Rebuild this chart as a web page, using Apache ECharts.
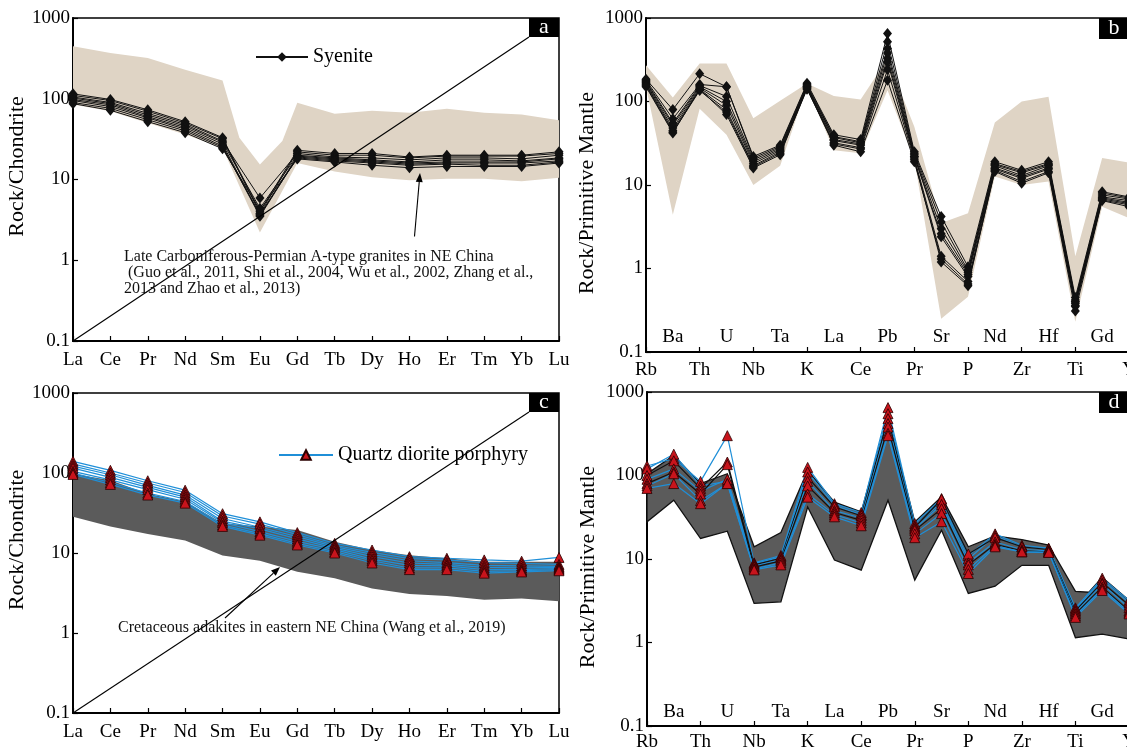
<!DOCTYPE html>
<html>
<head>
<meta charset="utf-8">
<script src="https://cdn.jsdelivr.net/npm/echarts@6/dist/echarts.min.js"></script>
<style>html,body{margin:0;padding:0;background:#fff}#main{width:1127px;height:749px}</style>
</head>
<body>
<div id="main"></div>
<script>
// chondrite normalised REE
var reeCats = ['La','Ce','Pr','Nd','Sm','Eu','Gd','Tb','Dy','Ho','Er','Tm','Yb','Lu'];
// primitive mantle normalised trace elements
var traceCats = ['Rb','Ba','Th','U','Nb','Ta','K','La','Ce','Pb','Pr','Sr','P','Nd','Zr','Hf','Ti','Gd','Y'];
var yTicks = [0.1, 1, 10, 100, 1000];

// envelopes, [category position, value]
var envAUpper = [[0,446],[1,369],[2,320],[3,229],[4,168],[4.45,33],[5,15.3],[5.6,30],[6,89],[7,65],[8,71],[9,67],[10,75],[11,67],[12,64],[13,54]];
var envALower = [[0,85],[1,70],[2,50],[3,36],[4,24.5],[5,2.2],[6,16],[7,12.6],[8,10.7],[9,9.8],[10,10.2],[11,10.2],[12,9.5],[13,10.5]];
var envBUpper = [[0,272],[1,112],[2,285],[3,285],[4,63],[5,102],[6,164],[7,116],[8,106],[9,325],[10,50],[11,3.5],[12,4.6],[13,56],[14,100],[15,114],[16,1.4],[17,21],[18,18.5]];
var envBLower = [[0,150],[1,4.4],[2,82],[3,40],[4,10],[5,17],[6,150],[7,26],[8,24],[9,136],[10,20],[11,0.25],[12,0.46],[13,12.6],[14,10],[15,11],[16,0.23],[17,5.5],[18,4.0]];
var envCUpper = [[0,98],[1,81],[2,55],[3,44],[4,23.6],[5,21.4],[6,19.4],[7,13.8],[8,10.9],[9,9.4],[10,8.6],[11,7.8],[12,7.8],[13,7.8]];
var envCLower = [[0,28.4],[1,21.4],[2,17.3],[3,14.3],[4,9.3],[5,8.0],[6,5.85],[7,4.83],[8,3.6],[9,3.08],[10,2.9],[11,2.6],[12,2.7],[13,2.5]];
var envDUpper = [[0,105],[1,174],[2,80],[3,105],[4,14],[5,20.7],[6,115],[7,48],[8,36.6],[9,526],[10,27.8],[11,55.5],[12,14],[13,18.9],[14,17.1],[15,14.7],[16,4.1],[16.5,4.0],[17,6],[18,3.2]];
var envDLower = [[0,27.9],[1,50.6],[2,17.6],[3,21.5],[4,2.94],[5,3.07],[6,42],[7,9.7],[8,7.35],[9,50.6],[10,5.58],[11,22.1],[12,3.87],[13,4.73],[14,8.4],[15,8.4],[16,1.14],[17,1.26],[18,1.1]];

// syenite REE
var syeA1 = [115, 98, 73, 52, 33, 4.0, 23, 21, 21, 19, 20, 20, 20, 22];
var syeA2 = [110, 95, 70, 50, 32, 3.8, 22, 20, 20, 18.5, 19.5, 19.5, 19.5, 21];
var syeA3 = [105, 90, 66, 48, 30, 5.9, 21, 19, 18.5, 17.5, 18.5, 18.5, 18, 20];
var syeA4 = [102, 87, 63, 46, 29, 4.4, 20, 18.5, 17.5, 16.5, 17.5, 17.5, 17, 18.5];
var syeA5 = [98, 84, 60, 44, 27.5, 3.6, 19.5, 18, 17, 16, 16.5, 16.5, 16.5, 18];
var syeA6 = [95, 80, 58, 42, 26, 3.5, 19, 17.5, 16.5, 15.5, 16, 16, 16, 17];
var syeA7 = [90, 76, 55, 40, 25, 3.7, 18.5, 17, 16, 15, 15.5, 15, 15, 16.5];
var syeA8 = [87, 72, 52, 38, 24, 4.2, 18, 16.5, 15, 14, 14.5, 14.5, 14.5, 16];

// syenite trace
var syeB1 = [185, 80, 215, 150, 22, 30, 165, 40, 35, 650, 25, 4.2, 1.05, 19, 15, 19, 0.45, 8.3, 7.2];
var syeB2 = [180, 62, 160, 150, 21, 29, 160, 38, 33, 520, 24, 3.6, 0.95, 18, 14.5, 18, 0.42, 8.0, 7.0];
var syeB3 = [175, 55, 155, 115, 20, 28, 155, 37, 32, 430, 23, 3.0, 0.9, 17.5, 14, 17.5, 0.4, 7.6, 6.8];
var syeB4 = [170, 52, 150, 100, 19, 27, 150, 35, 31, 380, 22, 2.6, 0.85, 17, 13, 17, 0.4, 7.2, 6.5];
var syeB5 = [165, 48, 145, 90, 18, 26, 150, 34, 30, 330, 22, 2.4, 0.8, 16, 12.5, 16, 0.38, 7.0, 6.2];
var syeB6 = [160, 45, 140, 80, 17, 25, 145, 32, 28, 300, 21, 1.4, 0.7, 15.5, 12, 15.5, 0.36, 6.8, 6.0];
var syeB7 = [155, 43, 135, 75, 16.5, 24, 140, 31, 27, 240, 20, 1.2, 0.62, 15, 11, 14.5, 0.35, 6.6, 5.8];
var syeB8 = [150, 42, 140, 70, 16, 23, 145, 30, 25, 180, 19, 1.3, 0.65, 14.5, 10.5, 14, 0.31, 6.5, 5.5];

// quartz diorite porphyry REE
var qdpC1 = [140, 108, 80, 61, 31, 24.5, 18, 13.2, 10.9, 9.0, 8.6, 8.2, 7.9, 8.8];
var qdpC2 = [130, 100, 75, 57, 29, 23, 17, 12.5, 10.2, 8.5, 8.2, 7.6, 7.4, 7.2];
var qdpC3 = [122, 95, 70, 53, 27, 21, 16, 12, 9.6, 8.0, 7.6, 7.0, 6.9, 6.8];
var qdpC4 = [115, 88, 66, 50, 25, 20, 15, 11.5, 9.0, 7.5, 7.2, 6.6, 6.5, 6.6];
var qdpC5 = [105, 82, 62, 47, 24, 18.5, 14, 11, 8.4, 7.0, 6.9, 6.2, 6.2, 6.4];
var qdpC6 = [100, 76, 56, 44, 22.5, 17.5, 13.2, 10.4, 8.0, 6.5, 6.5, 5.9, 6.0, 6.2];
var qdpC7 = [96, 72, 53, 42, 21.5, 16.7, 12.6, 10, 7.5, 6.2, 6.2, 5.6, 5.8, 6.0];

// quartz diorite porphyry trace
var qdpD1 = [130, 160, 85, 300, 9.0, 11, 125, 46, 36, 650, 26.6, 53, 11, 20, 14.6, 13.5, 2.6, 5.9, 3.2];
var qdpD2 = [120, 180, 75, 85, 8.8, 10.6, 110, 44, 34, 550, 25, 48, 10, 19, 14, 13.2, 2.5, 5.6, 3.0];
var qdpD3 = [100, 150, 70, 145, 8.5, 10.2, 95, 42, 33, 480, 24, 52, 11.5, 18, 14, 13, 2.4, 5.2, 2.8];
var qdpD4 = [90, 120, 65, 90, 8.2, 9.8, 85, 38, 31, 420, 23, 45, 9, 16, 13, 12.5, 2.3, 5.0, 2.6];
var qdpD5 = [80, 110, 60, 135, 8.0, 9.5, 75, 36, 29, 380, 22, 40, 8.5, 15, 12.5, 12.2, 2.2, 4.6, 2.4];
var qdpD6 = [75, 105, 50, 80, 7.6, 9.0, 60, 34, 27, 320, 20, 35, 7.5, 14.5, 12.2, 12, 2.1, 4.4, 2.3];
var qdpD7 = [70, 80, 46, 80, 7.4, 8.5, 55, 32, 25, 300, 18, 28, 6.7, 14, 12.2, 12, 2.0, 4.2, 2.2];

var FONT = 'Liberation Serif';
var TAN = '#dfd4c5', GRAY = '#5b5b5b', BLUE = '#1f8fd8', RED = '#c8141c';

// grid boxes in px
var G = [
  {left: 73, top: 18, width: 486, height: 323},
  {left: 646, top: 18, width: 483, height: 334},
  {left: 73, top: 393, width: 486, height: 320},
  {left: 647, top: 392, width: 482, height: 334}
];

var myChart = echarts.init(document.getElementById('main'));

function fmt(v) {
  for (var i = 0; i < yTicks.length; i++) {
    if (Math.abs(v - yTicks[i]) / yTicks[i] < 1e-6) return String(yTicks[i]);
  }
  return '';
}

function toPx(api, x, v, n) {
  var i0 = Math.floor(x);
  var p0 = api.coord([i0, v]);
  if (x === i0) return p0;
  var p1 = api.coord([Math.min(i0 + 1, n - 1), v]);
  return [p0[0] + (p1[0] - p0[0]) * (x - i0), p0[1]];
}

function envelope(idx, upper, lower, n, fill, stroke) {
  return {
    type: 'custom', xAxisIndex: idx, yAxisIndex: idx, silent: true, z: 1,
    data: [[0, 1]],
    renderItem: function (params, api) {
      var pts = [];
      upper.forEach(function (p) { pts.push(toPx(api, p[0], p[1], n)); });
      lower.slice().reverse().forEach(function (p) { pts.push(toPx(api, p[0], p[1], n)); });
      return {
        type: 'polygon', shape: {points: pts},
        style: {fill: fill, stroke: stroke || null, lineWidth: stroke ? 1.3 : 0}
      };
    }
  };
}

function sample(idx, name, values, kind, lineColor) {
  var s = {
    type: 'line', name: name, xAxisIndex: idx, yAxisIndex: idx, data: values, z: 3,
    showSymbol: true
  };
  if (kind === 'dia') {
    s.symbol = 'diamond'; s.symbolSize = [9, 11];
    s.lineStyle = {color: '#111', width: 1};
    s.itemStyle = {color: '#111'};
  } else {
    s.symbol = 'triangle'; s.symbolSize = 10;
    s.lineStyle = {color: lineColor || BLUE, width: 1.2};
    s.itemStyle = {color: RED, borderColor: '#2a0000', borderWidth: 0.8};
  }
  return s;
}

function xAx(idx, cats, grid, opts) {
  var o = {
    type: 'category', gridIndex: grid, data: cats, boundaryGap: false, position: 'bottom',
    axisLine: {show: true, onZero: false, lineStyle: {color: '#000', width: 2}},
    axisTick: {show: true, inside: true, length: 5, lineStyle: {color: '#000', width: 1.2}},
    axisLabel: {fontFamily: FONT, fontSize: 19, color: '#000', margin: 10, interval: 0},
    splitLine: {show: false}
  };
  if (opts) {
    if (opts.label) o.axisLabel = Object.assign(o.axisLabel, opts.label);
    if (opts.hideLine) { o.axisLine = {show: false}; o.axisTick = {show: false}; }
  }
  return o;
}

function yAx(grid, name, gap, pad) {
  return {
    type: 'log', logBase: 10, gridIndex: grid, min: 0.1, max: 1000,
    name: name, nameLocation: 'middle', nameGap: gap,
    nameTextStyle: {fontFamily: FONT, fontSize: 22, color: '#000', padding: pad},
    axisLine: {show: true, lineStyle: {color: '#000', width: 2}},
    axisTick: {show: true, inside: true, length: 5, lineStyle: {color: '#000', width: 1.2}},
    axisLabel: {fontFamily: FONT, fontSize: 19, color: '#000', margin: 3, formatter: fmt},
    splitLine: {show: false}, minorTick: {show: false}
  };
}

var evenOnly = function (i) { return i % 2 === 0; };
var oddOnly = function (i) { return i % 2 === 1; };

var series = [
  envelope(0, envAUpper, envALower, reeCats.length, TAN),
  envelope(1, envBUpper, envBLower, traceCats.length, TAN),
  envelope(2, envCUpper, envCLower, reeCats.length, GRAY),
  envelope(3, envDUpper, envDLower, traceCats.length, GRAY, '#111')
];
[syeA1, syeA2, syeA3, syeA4, syeA5, syeA6, syeA7, syeA8].forEach(function (d) {
  series.push(sample(0, 'Syenite', d, 'dia'));
});
[syeB1, syeB2, syeB3, syeB4, syeB5, syeB6, syeB7, syeB8].forEach(function (d) {
  series.push(sample(1, 'Syenite', d, 'dia'));
});
[qdpC1, qdpC2, qdpC3, qdpC4, qdpC5, qdpC6, qdpC7].forEach(function (d) {
  series.push(sample(2, 'Quartz diorite porphyry', d, 'tri'));
});
[qdpD1, qdpD2, qdpD3, qdpD4, qdpD5, qdpD6, qdpD7].forEach(function (d, i) {
  series.push(sample(3, 'Quartz diorite porphyry', d, 'tri', (i === 2 || i === 4) ? '#111' : BLUE));
});

// panel letter boxes, diagonal lines, notes, arrows
var graphics = [];
var letters = ['a', 'b', 'c', 'd'];
G.forEach(function (g, i) {
  var bh = (i % 2 === 0) ? 19 : 21;
  graphics.push({type: 'rect', shape: {x: g.left + g.width - 30, y: g.top, width: 30, height: bh},
    style: {fill: '#000'}, z: 10});
  graphics.push({type: 'text', x: g.left + g.width - 15, y: g.top + bh / 2,
    style: {text: letters[i], fill: '#fff', font: '22px ' + FONT, align: 'center', verticalAlign: 'middle'}, z: 11});
  if (i % 2 === 0) {
    graphics.push({type: 'line', shape: {x1: g.left, y1: g.top + g.height, x2: g.left + g.width - 30, y2: g.top + bh},
      style: {stroke: '#000', lineWidth: 1.1}, z: 9});
  }
});
function arrow(x1, y1, x2, y2) {
  var a = Math.atan2(y2 - y1, x2 - x1), L = 9, W = 3.5;
  var bx = x2 - L * Math.cos(a), by = y2 - L * Math.sin(a);
  graphics.push({type: 'line', shape: {x1: x1, y1: y1, x2: bx, y2: by}, style: {stroke: '#000', lineWidth: 1.1}, z: 9});
  graphics.push({type: 'polygon', shape: {points: [[x2, y2],
    [bx + W * Math.sin(a), by - W * Math.cos(a)], [bx - W * Math.sin(a), by + W * Math.cos(a)]]},
    style: {fill: '#000'}, z: 9});
}
arrow(414.5, 236.5, 420, 173);
arrow(225, 618, 280, 567);
graphics.push({type: 'text', x: 124, y: 249, z: 9, style: {
  text: 'Late Carboniferous-Permian A-type granites in NE China\n (Guo et al., 2011, Shi et al., 2004, Wu et al., 2002, Zhang et al.,\n2013 and Zhao et al., 2013)',
  font: '16px ' + FONT, fill: '#111', lineHeight: 16}});
graphics.push({type: 'text', x: 118, y: 620, z: 9, style: {
  text: 'Cretaceous adakites in eastern NE China (Wang et al., 2019)',
  font: '16px ' + FONT, fill: '#111'}});

var legendText = {fontFamily: FONT, fontSize: 20, color: '#000'};

var option = {
  animation: false,
  backgroundColor: '#fff',
  grid: G.map(function (g) {
    return {left: g.left, top: g.top, width: g.width, height: g.height, show: true,
      containLabel: false, outerBoundsMode: 'none',
      borderColor: '#000', borderWidth: 1.5, backgroundColor: 'transparent'};
  }),
  legend: [
    {data: ['Syenite'], left: 250, top: 42, itemWidth: 52, itemHeight: 12, itemGap: 8,
      selectedMode: false, textStyle: legendText},
    {data: ['Quartz diorite porphyry'], left: 273, top: 440, itemWidth: 54, itemHeight: 12,
      selectedMode: false, textStyle: legendText}
  ],
  xAxis: [
    xAx(0, reeCats, 0),
    xAx(1, traceCats, 1, {label: {interval: evenOnly, margin: 9}}),
    xAx(2, reeCats, 2),
    xAx(3, traceCats, 3, {label: {interval: evenOnly, margin: 7}}),
    xAx(4, traceCats, 1, {hideLine: true, label: {interval: oddOnly, inside: true, margin: 5}}),
    xAx(5, traceCats, 3, {hideLine: true, label: {interval: oddOnly, inside: true, margin: 4}})
  ],
  yAxis: [
    yAx(0, 'Rock/Chondrite', 44, [0, 0, 0, 26]),
    yAx(1, 'Rock/Primitive Mantle', 48, [0, 16, 0, 0]),
    yAx(2, 'Rock/Chondrite', 44, [0, 0, 0, 26]),
    yAx(3, 'Rock/Primitive Mantle', 48, [0, 16, 0, 0])
  ],
  graphic: graphics,
  series: series
};

myChart.setOption(option);
</script>
</body>
</html>
